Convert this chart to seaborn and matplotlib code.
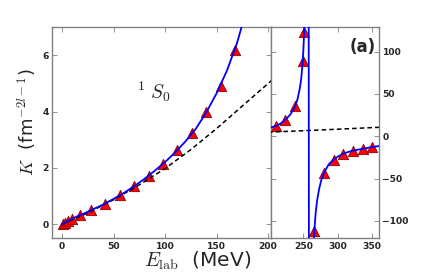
import matplotlib
matplotlib.use('Agg')
import matplotlib.pyplot as plt
import seaborn as sns

# Phase-shift data points (triangles)
e_pts = [0.5, 3, 6, 10, 17, 28, 42, 56, 70, 84, 98, 112, 126, 140, 154, 168,
         210, 224, 238, 249, 251, 266, 280, 294, 308, 322, 336, 350]
k_pts = [0.0, 0.05, 0.12, 0.2, 0.32, 0.5, 0.73, 1.03, 1.35, 1.72, 2.15, 2.63, 3.24, 3.99, 4.93, 6.2,
         11.8, 19.7, 35.4, 89, 123, -112, -43, -27.5, -20.5, -17.3, -15.3, -12.6]

# Fitted K-matrix curve (blue)
e_fit = [0, 5, 10, 20, 30, 40, 50, 60, 70, 80, 90, 100, 110, 120, 130, 140, 150, 160, 170, 175,
         180, 190, 203, 210, 217, 224, 231, 238, 242, 245, 247, 249, 250, 251, 252, 253, 254, 255,
         256, 257, 259, 260, 261, 262, 263, 264, 265, 266, 268, 270, 273, 276, 280, 287, 294, 301,
         308, 315, 322, 329, 336, 343, 350, 360]
k_fit = [0, 0.1, 0.2, 0.36, 0.53, 0.7, 0.9, 1.11, 1.35, 1.61, 1.9, 2.21, 2.56, 2.95, 3.4, 3.97, 4.65,
         5.45, 6.45, 7.1, 7.8, 9.0, 10.5, 12, 15, 19.5, 25.5, 35, 45, 57, 68, 87, 100, 118, 140, 170,
         215, 290, 440, 900, -900, -450, -300, -225, -180, -150, -128, -112, -90, -76, -62, -52, -43,
         -33, -27.5, -23.5, -20.5, -18.5, -17, -15.8, -14.8, -13.7, -12.6, -11.5]

# Born approximation (dashed)
e_born = [0, 25, 50, 75, 100, 125, 150, 175, 200, 250, 300, 350, 360]
k_born = [0, 0.4, 0.87, 1.4, 1.98, 2.65, 3.4, 4.2, 5.0, 6.6, 8.4, 10.3, 10.6]

sns.set_style('ticks')
plt.rcParams['mathtext.fontset'] = 'cm'
plt.rcParams['font.family'] = ['DejaVu Sans']

fig = plt.figure(figsize=(4.22, 2.73), dpi=100)
bot, top = 1 - 238.3 / 273, 1 - 27.3 / 273
ax1 = fig.add_axes([52 / 422, bot, (270.5 - 52) / 422, top - bot])
ax2 = fig.add_axes([270.5 / 422, bot, (379 - 270.5) / 422, top - bot])

for ax in (ax1, ax2):
    sns.scatterplot(x=e_pts, y=k_pts, marker='^', s=55, color='red', edgecolor='#8b0000',
                    linewidth=0.6, ax=ax, zorder=2)
    sns.lineplot(x=e_born, y=k_born, color='black', lw=1.1, ls=(0, (3, 2)), ax=ax, zorder=3)
    sns.lineplot(x=e_fit, y=k_fit, color='blue', lw=1.3, ax=ax, zorder=4,
                 estimator=None, sort=False)
    ax.set(xlabel='', ylabel='')
    for sp in ax.spines.values():
        sp.set_color('gray')
        sp.set_linewidth(1.0)
    ax.tick_params(direction='in', top=True, right=True, left=True, length=3.5, width=0.6,
                   color='gray', labelsize=6.6, pad=2.5)

ax1.set_xlim(-9.7, 202.4)
ax1.set_ylim(-0.5, 7.0)
ax1.set_xticks([0, 50, 100, 150, 200])
ax1.set_yticks([0, 2, 4, 6])

ax2.set_xlim(202.5, 359.7)
ax2.set_ylim(-120.5, 128.8)
ax2.set_xticks([250, 300, 350])
ax2.set_yticks([-100, -50, 0, 50, 100])
ax2.tick_params(labelleft=False, labelright=True)

for ax in (ax1, ax2):
    for lbl in ax.get_xticklabels() + ax.get_yticklabels():
        lbl.set_fontweight('bold')

ax1.text(89, 4.7, r'$^1\;S_0$', fontsize=14, ha='center', va='center')
ax2.text(0.97, 0.95, '(a)', transform=ax2.transAxes, fontsize=12, fontweight='bold',
         ha='right', va='top')

fig.text(198 / 422, 1 - 267 / 273, r'$E_{\rm lab}$  (MeV)', fontsize=14.5, ha='center',
         va='baseline')
fig.text(27 / 422, 1 - 122 / 273, r'$K$  (fm$^{-2l-1}$)', fontsize=13, rotation=90,
         ha='center', va='center')

fig.savefig('out.png', dpi=100)
